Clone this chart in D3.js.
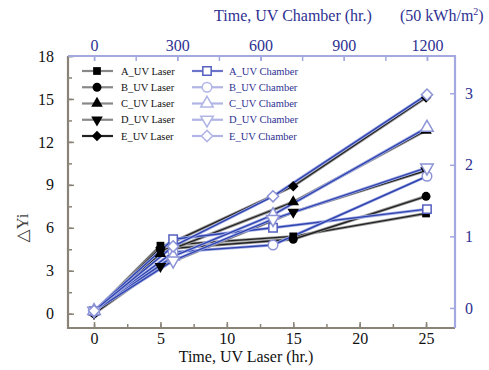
<!DOCTYPE html>
<html>
<head>
<meta charset="utf-8">
<script src="https://cdn.jsdelivr.net/npm/d3@7"></script>
<style>
  body { margin: 0; background: #fff; }
</style>
</head>
<body>
<div id="chart"></div>
<script>
// x positions
var laserHours = [0, 5, 15, 25];
var chamberHours = [0, 285, 645, 1200];

// delta Yi, UV laser series
var laserA = [0.1, 4.75, 5.4, 7.0];
var laserB = [0.0, 4.5, 5.2, 8.2];
var laserC = [0.1, 4.2, 7.8, 12.8];
var laserD = [0.0, 3.3, 7.1, 10.0];
var laserE = [0.1, 4.6, 8.9, 15.1];

// delta Yi, UV chamber series
var chamberA = [0.2, 5.2, 6.0, 7.3];
var chamberB = [0.2, 4.3, 4.8, 9.6];
var chamberC = [0.2, 4.0, 6.9, 13.0];
var chamberD = [0.2, 3.7, 6.6, 10.2];
var chamberE = [0.2, 4.7, 8.2, 15.3];

var seriesNames = ["A", "B", "C", "D", "E"];
var leftTicks = [0, 3, 6, 9, 12, 15, 18];
var bottomTicks = [0, 5, 10, 15, 20, 25];
var topTicks = [0, 300, 600, 900, 1200];
var rightTicks = [0, 1, 2, 3];

var W = 489, H = 370;
var box = {left: 68, right: 455, top: 56, bottom: 328};
var serif = "'Liberation Serif', 'DejaVu Serif', serif";

var navy = "#2e3192", frameBlue = "#a3a9e0", frameGrey = "#8a8377";

var svg = d3.select("#chart").append("svg")
    .attr("width", W)
    .attr("height", H)
    .attr("font-family", serif);

var x = d3.scaleLinear().domain([-1.96, 27.18]).range([box.left, box.right]);
var xTop = d3.scaleLinear().domain([-94, 1301]).range([box.left, box.right]);
var y = d3.scaleLinear().domain([-1, 18]).range([box.bottom, box.top]);
var yRight = d3.scaleLinear().domain([-0.28, 3.52]).range([box.bottom, box.top]);

// axes, ticks pointing inward
var gBottom = svg.append("g").attr("transform", "translate(0," + box.bottom + ")")
    .call(d3.axisBottom(x).tickValues(d3.range(0, 27.5, 2.5)).tickSize(-4).tickFormat(""));
var gBottomLab = svg.append("g").attr("transform", "translate(0," + box.bottom + ")")
    .call(d3.axisBottom(x).tickValues(bottomTicks).tickSize(-6).tickPadding(5).tickFormat(d3.format("d")));

var gLeft = svg.append("g").attr("transform", "translate(" + box.left + ",0)")
    .call(d3.axisLeft(y).tickValues(d3.range(-1.5, 18.1, 1.5).filter(function (d) { return d > -1; })).tickSize(-4).tickFormat(""));
var gLeftLab = svg.append("g").attr("transform", "translate(" + box.left + ",0)")
    .call(d3.axisLeft(y).tickValues(leftTicks).tickSize(-6).tickPadding(14).tickFormat(d3.format("d")));

var gTop = svg.append("g").attr("transform", "translate(0," + box.top + ")")
    .call(d3.axisTop(xTop).tickValues(d3.range(0, 1201, 150)).tickSize(-5).tickFormat(""));
var gTopLab = svg.append("g").attr("transform", "translate(0," + box.top + ")")
    .call(d3.axisTop(xTop).tickValues(topTicks).tickSize(-5).tickPadding(5).tickFormat(d3.format("d")));

var gRight = svg.append("g").attr("transform", "translate(" + box.right + ",0)")
    .call(d3.axisRight(yRight).tickValues(rightTicks).tickSize(-5).tickPadding(10).tickFormat(d3.format("d")));

[gBottom, gBottomLab, gLeft, gLeftLab, gTop, gTopLab, gRight].forEach(function (g) {
    g.attr("font-family", serif).attr("font-size", 16);
    g.select(".domain").remove();
});
[gBottom, gBottomLab, gLeft, gLeftLab].forEach(function (g) {
    g.selectAll("line").attr("stroke", frameGrey).attr("stroke-width", 1.5);
    g.selectAll("text").attr("fill", "#111");
});
[gTop, gTopLab, gRight].forEach(function (g) {
    g.selectAll("line").attr("stroke", frameBlue).attr("stroke-width", 1.5);
    g.selectAll("text").attr("fill", navy);
});

// frame
svg.append("path")
    .attr("d", "M" + box.left + "," + box.top + "V" + box.bottom + "H" + box.right)
    .attr("fill", "none").attr("stroke", frameGrey).attr("stroke-width", 2.2);
svg.append("path")
    .attr("d", "M" + box.left + "," + box.top + "H" + box.right + "V" + box.bottom)
    .attr("fill", "none").attr("stroke", frameBlue).attr("stroke-width", 2.2);

// titles
svg.append("text").text("Time, UV Laser (hr.)")
    .attr("x", 246).attr("y", 362).attr("text-anchor", "middle")
    .attr("font-size", 16).attr("fill", "#111");
svg.append("text").text("Time, UV Chamber (hr.)")
    .attr("x", 293).attr("y", 21).attr("text-anchor", "middle")
    .attr("font-size", 16).attr("fill", navy);
var unit = svg.append("text")
    .attr("x", 400).attr("y", 21)
    .attr("font-size", 16).attr("fill", navy);
unit.append("tspan").text("(50 kWh/m");
unit.append("tspan").text("2").attr("font-size", 10).attr("dy", -6);
unit.append("tspan").text(")").attr("dy", 6);
svg.append("text").text("△Yi")
    .attr("transform", "translate(28,228) rotate(-90)")
    .attr("text-anchor", "middle")
    .attr("font-size", 17).attr("fill", "#444");

// symbols
var triDown = {
    draw: function (ctx, size) {
        var s = Math.sqrt(size / (Math.sqrt(3) / 4)), h = s * Math.sqrt(3) / 2;
        ctx.moveTo(-s / 2, -h / 3);
        ctx.lineTo(s / 2, -h / 3);
        ctx.lineTo(0, 2 * h / 3);
        ctx.closePath();
    }
};
var symbolTypes = [d3.symbolSquare, d3.symbolCircle, d3.symbolTriangle, triDown, d3.symbolDiamond2];
var symbolSizes = [60, 62, 58, 58, 70];

var laserData = [laserA, laserB, laserC, laserD, laserE];
var chamberData = [chamberA, chamberB, chamberC, chamberD, chamberE];

var laserLine = d3.line()
    .x(function (d, i) { return x(laserHours[i]); })
    .y(function (d) { return y(d); });
var chamberLine = d3.line()
    .x(function (d, i) { return xTop(chamberHours[i]); })
    .y(function (d) { return y(d); });

var laserColor = "#222", chamberColor = "#2f45b0", chamberMark = "#8c93d6";

// laser lines (grey halo + dark core)
laserData.forEach(function (vals) {
    svg.append("path").datum(vals).attr("d", laserLine)
        .attr("fill", "none").attr("stroke", "#9a9a9a").attr("stroke-width", 3);
    svg.append("path").datum(vals).attr("d", laserLine)
        .attr("fill", "none").attr("stroke", laserColor).attr("stroke-width", 1.3);
});
chamberData.forEach(function (vals) {
    svg.append("path").datum(vals).attr("d", chamberLine)
        .attr("fill", "none").attr("stroke", "#a9b0e6").attr("stroke-width", 3);
    svg.append("path").datum(vals).attr("d", chamberLine)
        .attr("fill", "none").attr("stroke", chamberColor).attr("stroke-width", 1.4);
});

laserData.forEach(function (vals, k) {
    svg.append("g").selectAll("path").data(vals).enter().append("path")
        .attr("transform", function (d, i) { return "translate(" + x(laserHours[i]) + "," + y(d) + ")"; })
        .attr("d", d3.symbol().type(symbolTypes[k]).size(symbolSizes[k]))
        .attr("fill", "#000");
});
chamberData.forEach(function (vals, k) {
    svg.append("g").selectAll("path").data(vals).enter().append("path")
        .attr("transform", function (d, i) { return "translate(" + xTop(chamberHours[i]) + "," + y(d) + ")"; })
        .attr("d", d3.symbol().type(symbolTypes[k]).size(symbolSizes[k] + 10))
        .attr("fill", "#fff").attr("stroke", k === 0 ? "#5560c0" : chamberMark).attr("stroke-width", 1.5);
});

// legend
var legendY = d3.scaleLinear().domain([0, 4]).range([71, 136]);
seriesNames.forEach(function (name, k) {
    var ly = legendY(k);
    svg.append("line").attr("x1", 82).attr("x2", 113).attr("y1", ly).attr("y2", ly)
        .attr("stroke", k === 4 ? "#222" : "#888").attr("stroke-width", 2.2);
    svg.append("path").attr("transform", "translate(97," + ly + ")")
        .attr("d", d3.symbol().type(symbolTypes[k]).size(symbolSizes[k]))
        .attr("fill", "#000");
    svg.append("text").text(name + "_UV Laser")
        .attr("x", 121).attr("y", ly + 3.5)
        .attr("font-size", 10.5).attr("fill", "#111");

    svg.append("line").attr("x1", 192).attr("x2", 223).attr("y1", ly).attr("y2", ly)
        .attr("stroke", k === 0 ? "#6b74c8" : "#b0b5e6").attr("stroke-width", 2.2);
    svg.append("path").attr("transform", "translate(207," + ly + ")")
        .attr("d", d3.symbol().type(symbolTypes[k]).size(symbolSizes[k] + 10))
        .attr("fill", "#fff").attr("stroke", k === 0 ? "#5560c0" : "#b0b5e6").attr("stroke-width", 1.5);
    svg.append("text").text(name + "_UV Chamber")
        .attr("x", 229).attr("y", ly + 3.5)
        .attr("font-size", 10.5).attr("fill", navy);
});
</script>
</body>
</html>
